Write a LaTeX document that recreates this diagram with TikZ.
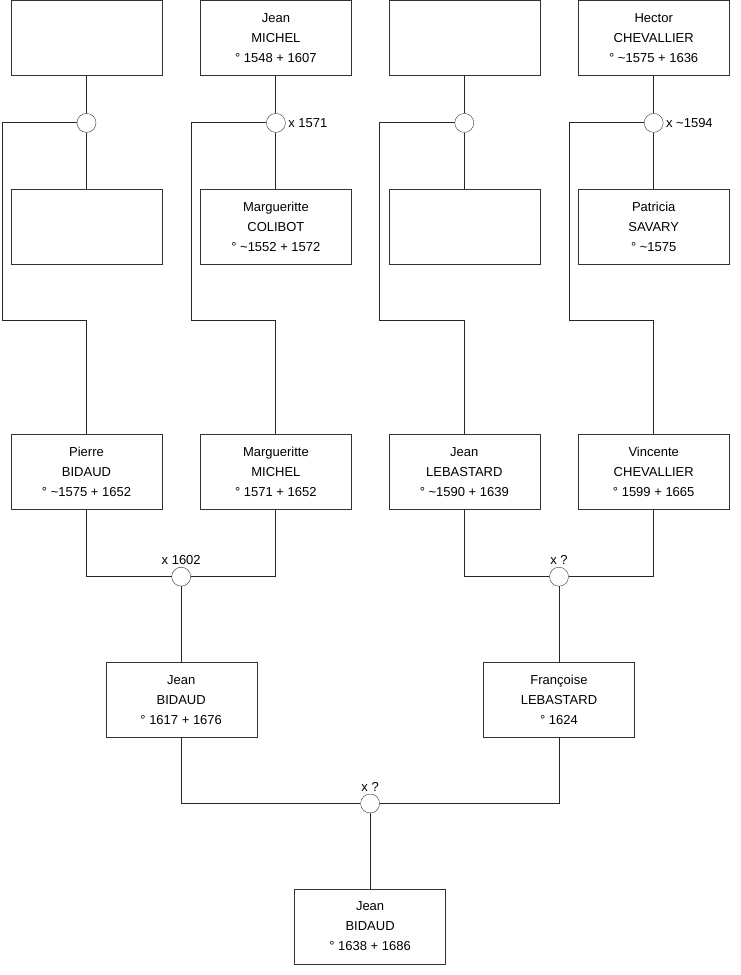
\documentclass[tikz,border=0pt]{standalone}
\usepackage{fontspec}
\setmainfont{Liberation Sans}
\usetikzlibrary{positioning, calc}
\tikzset{
	person/.style ={rectangle, draw=black!80, minimum width=151pt, minimum height=75pt, align=center, inner sep=0pt, font=\fontsize{13}{20}\selectfont},
	union/.style  ={circle, draw=black!80, fill=white, minimum size=19pt, inner sep=0pt},
	link/.style   ={draw=black!85, line width=0.9pt},
	mlabel/.style ={font=\fontsize{13}{15}\selectfont, inner sep=2.5pt},
}

\begin{document}
\begin{tikzpicture}[x=1pt, y=-1pt, node distance=38pt]
	\useasboundingbox (0,0) rectangle (740,975);
	% grandparents
	\node[person] (a1) at (86.5,38) {};
	\node[person, right=of a1] (a2) {Jean\\ MICHEL\\ ° 1548 + 1607};
	\node[person, right=37pt of a2] (a3) {};
	\node[person, right=of a3] (a4) {Hector\\ CHEVALLIER\\ ° \textasciitilde1575 + 1636};
	\node[person, below=113pt of a1] (b1) {};
	\node[person, below=113pt of a2] (b2) {Margueritte\\ COLIBOT\\ ° \textasciitilde1552 + 1572};
	\node[person, below=113pt of a3] (b3) {};
	\node[person, below=113pt of a4] (b4) {Patricia\\ SAVARY\\ ° \textasciitilde1575};
	\node[union, below=37.5pt of a1] (c1) {};
	\node[union, below=37.5pt of a2, label={[mlabel]right:x 1571}] (c2) {};
	\node[union, below=37.5pt of a3] (c3) {};
	\node[union, below=37.5pt of a4, label={[mlabel]right:x \textasciitilde1594}] (c4) {};
	% parents
	\node[person, below=170pt of b1] (p1) {Pierre\\ BIDAUD\\ ° \textasciitilde1575 + 1652};
	\node[person, below=170pt of b2] (p2) {Margueritte\\ MICHEL\\ ° 1571 + 1652};
	\node[person, below=170pt of b3] (p3) {Jean\\ LEBASTARD\\ ° \textasciitilde1590 + 1639};
	\node[person, below=170pt of b4] (p4) {Vincente\\ CHEVALLIER\\ ° 1599 + 1665};
	\coordinate (k1) at (2,320);
	\coordinate (k2) at (191,320);
	\coordinate (k3) at (379,320);
	\coordinate (k4) at (569,320);
	\coordinate (mid1) at ($(p1.south)!0.5!(p2.south)$);
	\coordinate (mid2) at ($(p3.south)!0.5!(p4.south)$);
	\node[union, below=57.5pt of mid1, label={[mlabel]above:x 1602}] (m1) {};
	\node[union, below=57.5pt of mid2, label={[mlabel]above:x ?}] (m2) {};
	% children
	\node[person, below=75.5pt of m1] (q1) {Jean\\ BIDAUD\\ ° 1617 + 1676};
	\node[person, below=75.5pt of m2] (q2) {Françoise\\ LEBASTARD\\ ° 1624};
	\coordinate (mid3) at ($(q1.south)!0.5!(q2.south)$);
	\node[union, below=56.5pt of mid3, label={[mlabel]above:x ?}] (m3) {};
	\node[person, below=75.5pt of m3] (r) {Jean\\ BIDAUD\\ ° 1638 + 1686};
	% links
	\foreach \i in {1,2,3,4} {
		\draw[link] (a\i) -- (c\i) -- (b\i);
		\draw[link] (c\i) -| (k\i) -| (p\i);
	}
	\draw[link] (p1) |- (m1);
	\draw[link] (p2) |- (m1);
	\draw[link] (p3) |- (m2);
	\draw[link] (p4) |- (m2);
	\draw[link] (m1) -- (q1);
	\draw[link] (m2) -- (q2);
	\draw[link] (q1) |- (m3);
	\draw[link] (q2) |- (m3);
	\draw[link] (m3) -- (r);
\end{tikzpicture}
\end{document}
